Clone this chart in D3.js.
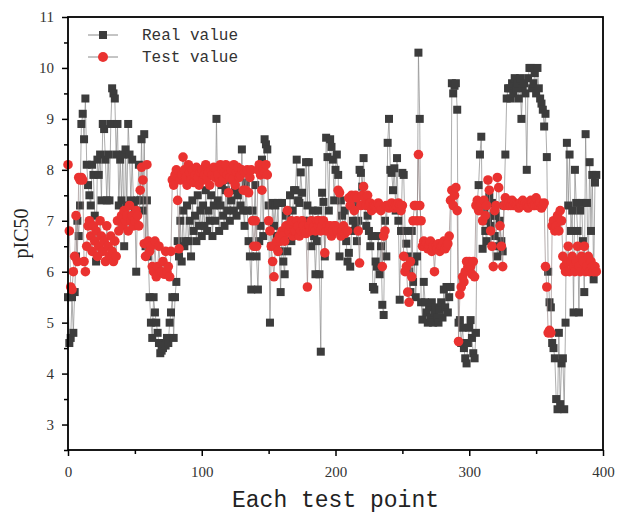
<!DOCTYPE html>
<html>
<head>
<meta charset="utf-8">
<script src="https://cdn.jsdelivr.net/npm/d3@7"></script>
<style>
  body { margin: 0; background: #fff; }
  svg { display: block; }
</style>
</head>
<body>
<svg id="chart" width="621" height="515"></svg>
<script>
// pIC50 values, one per test point
var realValue = [
  5.5, 4.6, 4.7, 5.5, 4.8, 5.6, 6.3, 7.0, 6.7, 7.3,
  8.9, 9.1, 8.6, 9.4, 8.1, 7.7, 7.5, 7.3, 8.1, 7.9,
  7.1, 6.2, 8.2, 7.9, 8.3, 7.4, 8.9, 8.8, 8.2, 7.4,
  8.3, 7.4, 8.9, 9.6, 9.5, 9.4, 8.3, 8.9, 7.3, 8.2,
  7.4, 8.3, 6.5, 8.4, 7.3, 8.9, 8.3, 7.4, 8.2, 7.3,
  7.2, 6.0, 7.4, 8.1, 7.4, 8.6, 7.2, 8.7, 6.5, 7.4,
  6.3, 5.5, 5.0, 4.7, 5.5, 5.2, 5.0, 4.8, 4.6, 4.4,
  4.45, 4.5, 4.6, 4.55, 4.7, 4.6, 5.0, 5.2, 5.5, 4.7,
  5.5, 5.8, 6.6, 6.3, 7.0, 6.2, 7.2, 6.5, 6.6, 7.3,
  6.6, 7.0, 6.3, 7.4, 6.8, 7.1, 6.6, 7.5, 6.9, 7.2,
  6.7, 7.3, 6.9, 7.6, 6.8, 7.2, 7.0, 7.5, 6.7, 7.3,
  7.0, 9.0, 7.4, 6.8, 7.3, 7.7, 7.1, 6.9, 7.6, 7.2,
  7.8, 7.0, 7.4, 7.9, 7.2, 7.6, 7.1, 7.5, 8.0, 7.3,
  8.4, 7.2, 6.9, 7.75, 7.2, 6.6, 6.3, 5.65, 7.2, 7.0,
  7.7, 6.3, 5.65, 6.6, 6.9, 8.2, 6.7, 8.6, 8.5, 8.4,
  7.3, 5.0, 6.5, 7.35, 6.9, 7.3, 6.7, 7.35, 6.4, 5.6,
  7.35, 6.2, 5.95, 7.1, 6.4, 6.8, 7.5, 6.6, 7.2, 7.6,
  7.6, 8.2, 7.4, 7.35, 7.95, 7.55, 7.0, 6.9, 8.15, 7.3,
  8.15, 7.0, 6.5, 7.2, 6.7, 5.95, 6.6, 7.2, 5.95, 4.43,
  7.55, 7.37, 6.3, 8.63, 8.25, 7.2, 8.6, 8.45, 8.2, 7.4,
  8.0, 8.3, 7.9, 6.3, 7.4, 7.1, 6.8, 7.2, 6.6, 6.2,
  6.37, 6.1, 6.8, 7.0, 7.3, 6.9, 6.6, 7.0, 8.0, 7.94,
  7.67, 8.23, 7.3, 6.9, 7.1, 6.8, 6.5, 6.7, 5.7, 5.65,
  6.2, 6.1, 6.7, 5.95, 6.5, 5.35, 5.15, 7.0, 6.3, 8.53,
  9.0, 8.0, 7.94, 7.6, 8.03, 7.2, 8.23, 7.0, 5.45, 6.8,
  7.94, 7.9, 6.8, 6.55, 6.3, 6.0, 5.6, 6.8, 5.8, 6.2,
  5.5, 6.3, 10.3, 9.0, 5.4, 5.06, 5.8, 5.4, 5.2, 5.0,
  5.3, 5.1, 5.4, 5.0, 5.2, 5.3, 5.1, 5.0, 5.25, 5.4,
  5.1, 5.65, 5.3, 5.7, 5.2, 5.5, 5.7, 9.7, 9.5, 9.65,
  9.7, 9.18, 5.0, 5.05, 4.6, 4.9, 4.5, 4.3, 4.2, 4.6,
  4.9, 5.05, 4.7, 4.4, 4.3, 4.8, 7.37, 7.7, 8.3, 8.65,
  6.45, 7.2, 6.8, 6.6, 7.0, 7.47, 6.9, 7.35, 7.1, 6.7,
  7.1, 6.3, 6.5, 7.0, 6.6, 6.4, 7.3, 8.3, 9.4, 9.6,
  9.6, 9.4, 9.7, 9.5, 9.8, 9.6, 9.7, 9.4, 9.8, 9.0,
  9.6, 9.7, 9.5, 8.0, 9.8, 10.0, 10.0, 9.6, 9.7, 9.9,
  9.5, 10.0, 9.6, 9.4, 9.3, 9.18, 8.85, 9.1, 8.25, 6.0,
  5.4, 5.3, 4.6, 4.5, 4.3, 3.5, 3.3, 4.8, 3.4, 4.2,
  4.3, 3.3, 5.0, 8.53, 7.3, 8.3, 6.8, 7.2, 5.2, 8.0,
  7.35, 6.8, 5.2, 7.2, 7.35, 6.6, 5.6, 8.7, 7.35, 6.0,
  8.15, 6.8, 7.9, 5.85, 7.75, 7.9
];
var testValue = [
  8.1, 6.8, 5.7, 5.65, 6.0, 6.3, 7.1, 6.2, 7.85, 7.8,
  7.85, 7.8, 6.2, 6.0, 6.5, 6.9, 7.0, 6.7, 6.4, 6.9,
  6.6, 6.8, 6.3, 6.5, 7.0, 6.7, 6.4, 6.6, 6.2, 6.9,
  6.5, 6.3, 6.7, 6.4, 6.2, 6.6, 6.3, 7.0, 6.8, 7.0,
  7.1, 6.9, 7.2, 7.0, 7.1, 6.8, 7.3, 7.0, 7.1, 6.9,
  7.0, 7.2, 7.1, 6.9, 7.6, 8.05, 7.8, 6.55, 6.3, 8.1,
  6.6, 6.4, 6.5, 6.1, 6.0, 6.6, 5.9, 6.1, 6.5, 6.0,
  6.0, 6.2, 5.95, 6.4, 6.0, 6.1, 5.9, 6.4, 7.8, 7.7,
  7.9, 8.0, 7.4, 6.45, 7.8, 7.9, 8.25, 8.0, 7.85, 7.7,
  8.1, 7.95, 7.8, 8.0, 7.75, 7.9, 8.05, 7.85, 7.7, 7.95,
  8.0, 7.8, 7.9, 8.1, 7.85, 7.95, 7.7, 8.0, 7.9, 8.05,
  7.85, 8.0, 7.9, 7.75, 8.1, 8.0, 7.8, 7.95, 8.1, 7.9,
  7.55, 7.85, 8.0, 7.8, 8.1, 7.7, 7.95, 8.05, 7.85, 7.9,
  8.0, 7.6, 7.95, 7.6, 8.0, 7.55, 7.85, 8.0, 7.0, 6.5,
  7.0, 6.5, 8.0, 8.1, 7.9, 7.6, 8.0, 7.95, 8.1, 7.9,
  7.0, 6.8, 6.5, 6.2, 5.9, 6.5, 6.6, 6.4, 6.7, 6.6,
  6.8, 6.7, 6.6, 6.9, 7.2, 6.8, 6.9, 7.0, 6.7, 6.8,
  6.8, 7.0, 6.9, 6.7, 6.8, 7.0, 6.9, 6.8, 6.75, 5.7,
  6.9, 6.8, 7.0, 6.85, 6.9, 6.8, 7.0, 6.9, 7.0, 6.8,
  6.9, 7.0, 6.37, 6.8, 6.9, 6.8, 6.9, 6.7, 6.8, 6.9,
  6.9, 6.8, 7.6, 7.55, 6.7, 6.8, 6.9, 6.75, 6.8, 6.8,
  7.45, 7.3, 7.5, 7.45, 7.2, 7.5, 7.45, 6.8, 6.17, 7.3,
  7.5, 7.67, 7.45, 7.3, 7.5, 7.3, 7.35, 7.2, 7.3, 7.3,
  7.3, 7.25, 7.35, 7.3, 7.2, 6.1, 6.7, 6.8, 7.3, 7.3,
  7.25, 7.3, 7.35, 7.3, 7.25, 7.3, 7.3, 7.35, 7.3, 7.2,
  7.3, 6.3, 6.0, 6.1, 5.6, 5.4, 6.2, 5.9, 7.0, 7.3,
  7.3, 7.0, 8.3, 7.3, 7.0, 6.5, 6.6, 6.5, 6.55, 6.45,
  6.5, 6.6, 6.4, 6.5, 6.0, 6.5, 6.45, 6.55, 6.4, 6.5,
  6.5, 6.6, 6.45, 6.5, 6.55, 6.7, 7.4, 7.6, 7.3, 7.5,
  7.65, 7.2, 4.63, 5.55, 5.7, 5.9, 5.8, 6.0, 6.2, 6.1,
  6.2, 6.1, 5.95, 6.2, 5.9, 7.3, 7.4, 7.2, 7.3, 7.35,
  7.0, 7.4, 7.1, 7.3, 7.8, 7.6, 6.8, 6.5, 6.1, 7.2,
  7.3, 7.85, 7.65, 6.9, 6.5, 6.1, 7.3, 7.45, 7.35, 7.3,
  7.35, 7.3, 7.4, 7.3, 7.35, 7.3, 7.3, 7.25, 7.35, 7.3,
  7.4, 7.3, 7.35, 7.3, 7.25, 7.3, 7.4, 7.35, 7.3, 7.3,
  7.45, 7.3, 7.3, 7.35, 7.25, 7.3, 7.35, 6.1, 5.7, 4.8,
  4.85, 4.8, 6.9, 7.0, 6.8, 6.9, 7.1, 6.8, 7.2, 7.0,
  6.3, 6.1, 6.0, 6.2, 6.5, 6.0, 6.2, 6.3, 6.1, 6.0,
  6.2, 6.5, 6.1, 6.0, 6.3, 6.2, 6.5, 6.0, 6.1, 6.3,
  6.0, 6.2, 6.1, 6.0, 6.1, 6.0
];
var xTicks = [0, 100, 200, 300, 400];
var yTicks = [3, 4, 5, 6, 7, 8, 9, 10, 11];
var seriesNames = ["Real value", "Test value"];

var margin = {left: 68, right: 18, top: 17, bottom: 65};
var width = 621, height = 515;

var svg = d3.select("#chart");

var x = d3.scaleLinear().domain([0, 400]).range([margin.left, width - margin.right]);
var y = d3.scaleLinear().domain([2.5, 11]).range([height - margin.bottom, margin.top]);

var realColor = "#3c3c3c";
var testColor = "#ea3230";

// axes, ticks outward like origin
var xMinor = d3.range(50, 400, 100);
var yMinor = d3.range(2.5, 11, 1);

svg.append("g")
    .attr("transform", `translate(0, ${y(2.5)})`)
    .call(d3.axisBottom(x).tickValues(xMinor).tickSize(4).tickFormat(""))
    .call(g => g.select(".domain").remove())
    .call(g => g.selectAll("line").attr("stroke-width", 1.5));

svg.append("g")
    .attr("class", "xaxis")
    .attr("transform", `translate(0, ${y(2.5)})`)
    .call(d3.axisBottom(x).tickValues(xTicks).tickSize(6).tickPadding(10))
    .call(g => g.select(".domain").remove())
    .call(g => g.selectAll("line").attr("stroke-width", 1.5))
    .call(g => g.selectAll("text")
        .attr("font-family", "'Liberation Serif', serif")
        .attr("font-size", 15)
        .attr("fill", "#333"));

svg.append("g")
    .attr("transform", `translate(${x(0)}, 0)`)
    .call(d3.axisLeft(y).tickValues(yMinor).tickSize(4).tickFormat(""))
    .call(g => g.select(".domain").remove())
    .call(g => g.selectAll("line").attr("stroke-width", 1.5));

svg.append("g")
    .attr("transform", `translate(${x(0)}, 0)`)
    .call(d3.axisLeft(y).tickValues(yTicks).tickSize(6).tickPadding(8))
    .call(g => g.select(".domain").remove())
    .call(g => g.selectAll("line").attr("stroke-width", 1.5))
    .call(g => g.selectAll("text")
        .attr("font-family", "'Liberation Serif', serif")
        .attr("font-size", 15)
        .attr("fill", "#333"));

// data
var idx = d3.range(realValue.length);

var line = d3.line();

svg.append("path")
    .attr("d", line(idx.map(i => [x(i), y(realValue[i])])))
    .attr("fill", "none")
    .attr("stroke", "#8a8a8a")
    .attr("stroke-width", 0.7);

svg.append("g").selectAll("rect")
    .data(idx)
    .join("rect")
    .attr("x", i => x(i) - 4)
    .attr("y", i => y(realValue[i]) - 4)
    .attr("width", 8)
    .attr("height", 8)
    .attr("fill", realColor);

svg.append("path")
    .attr("d", line(idx.map(i => [x(i), y(testValue[i])])))
    .attr("fill", "none")
    .attr("stroke", "#9a8a8a")
    .attr("stroke-width", 0.7);

svg.append("g").selectAll("circle")
    .data(idx)
    .join("circle")
    .attr("cx", i => x(i))
    .attr("cy", i => y(testValue[i]))
    .attr("r", 4.8)
    .attr("fill", testColor);

// frame
svg.append("rect")
    .attr("x", x(0))
    .attr("y", y(11))
    .attr("width", x(400) - x(0))
    .attr("height", y(2.5) - y(11))
    .attr("fill", "none")
    .attr("stroke", "#000")
    .attr("stroke-width", 1.8);

// legend
var legend = svg.append("g").attr("transform", "translate(88, 35)");
seriesNames.forEach(function(name, k){
    var row = legend.append("g").attr("transform", `translate(0, ${k * 22})`);
    row.append("line")
        .attr("x1", 0).attr("x2", 30)
        .attr("stroke", "#8a8a8a").attr("stroke-width", 1);
    if(k == 0){
        row.append("rect").attr("x", 11).attr("y", -4).attr("width", 8).attr("height", 8)
            .attr("fill", realColor);
    }else{
        row.append("circle").attr("cx", 15).attr("r", 5).attr("fill", testColor);
    }
    row.append("text")
        .attr("x", 54).attr("y", 5)
        .attr("font-family", "'Liberation Mono', monospace")
        .attr("font-size", 16)
        .attr("fill", "#333")
        .text(name);
});

// axis titles
svg.append("text")
    .attr("x", (x(0) + x(400)) / 2)
    .attr("y", 507)
    .attr("text-anchor", "middle")
    .attr("font-family", "'Liberation Mono', monospace")
    .attr("font-size", 23)
    .attr("fill", "#222")
    .text("Each test point");

svg.append("text")
    .attr("transform", `translate(28, ${(y(11) + y(2.5)) / 2}) rotate(-90)`)
    .attr("text-anchor", "middle")
    .attr("font-family", "'Liberation Serif', serif")
    .attr("font-size", 20)
    .attr("fill", "#222")
    .text("pIC50");
</script>
</body>
</html>
